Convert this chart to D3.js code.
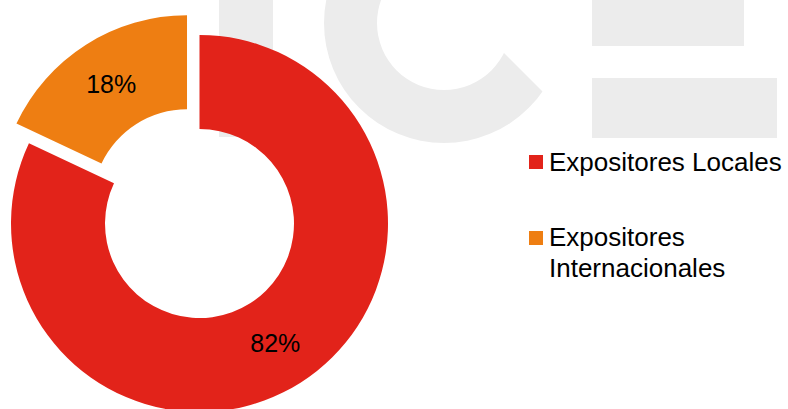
<!DOCTYPE html>
<html>
<head>
<meta charset="utf-8">
<script src="https://cdn.jsdelivr.net/npm/d3@7"></script>
<style>
  body { margin: 0; background: #fff; }
  svg { display: block; font-family: "Liberation Sans", Arial, sans-serif; }
</style>
</head>
<body>
<div id="chart"></div>
<script>
// data
const categories = ["Expositores Locales", "Expositores Internacionales"];
const values = [82, 18];
const colors = ["#e2231a", "#ee7e12"];
const exploded = [false, true];

const width = 788, height = 409;

const svg = d3.select("#chart").append("svg")
    .attr("width", width)
    .attr("height", height);

// faint logo watermark behind the chart
const wm = svg.append("g").attr("fill", "#ececec");
wm.append("rect").attr("x", 219).attr("y", 0).attr("width", 54).attr("height", 137);
wm.append("rect").attr("x", 592).attr("y", 0).attr("width", 152).attr("height", 46);
wm.append("rect").attr("x", 592).attr("y", 78).attr("width", 185).attr("height", 60);
svg.append("clipPath").attr("id", "c-cut")
    .append("polygon").attr("points", "-100,-551 1100,649 -100,649");
wm.append("g")
    .attr("clip-path", "url(#c-cut)")
  .append("path")
    .attr("d", d3.arc().innerRadius(67).outerRadius(120).startAngle(0).endAngle(2 * Math.PI)())
    .attr("transform", "translate(444,23)");

// donut
const cx = 199.5, cy = 223.5;
const innerR = 94.5, outerR = 188.5;
const explode = 23.3;

const total = d3.sum(values);
const pie = d3.pie().sort(null).value(d => d)(values);
const arc = d3.arc().innerRadius(innerR).outerRadius(outerR);

const offset = (d, i) => {
    if (!exploded[i]) return [0, 0];
    const a = (d.startAngle + d.endAngle) / 2;
    return [Math.sin(a) * explode, -Math.cos(a) * explode];
};

const slices = svg.append("g")
    .attr("transform", `translate(${cx},${cy})`)
    .selectAll("g").data(pie).enter().append("g")
    .attr("transform", (d, i) => `translate(${offset(d, i)})`);

slices.append("path")
    .attr("d", arc)
    .attr("fill", (d, i) => colors[i]);

slices.append("text")
    .attr("transform", d => `translate(${arc.centroid(d)})`)
    .attr("text-anchor", "middle")
    .attr("dy", "0.36em")
    .attr("font-size", 25)
    .attr("fill", "#000")
    .text(d => Math.round(d.value / total * 100) + "%");

// legend
const legendX = 529, legendY = 171, itemGap = 75, lineH = 31, maxW = 236;
const legend = svg.append("g");

categories.forEach((name, i) => {
    const y = legendY + i * itemGap;
    legend.append("rect")
        .attr("x", legendX)
        .attr("y", y - 16 + (i ? 1 : 0))
        .attr("width", 14)
        .attr("height", 14)
        .attr("fill", colors[i]);

    const t = legend.append("text")
        .attr("x", legendX + 20)
        .attr("y", y)
        .attr("font-size", 26)
        .attr("fill", "#000");

    // simple word wrap
    const words = name.split(" ");
    let line = [], ln = 0;
    let tspan = t.append("tspan").attr("x", legendX + 20).attr("y", y);
    words.forEach(w => {
        line.push(w);
        tspan.text(line.join(" "));
        if (tspan.node().getComputedTextLength() > maxW && line.length > 1) {
            line.pop();
            tspan.text(line.join(" "));
            line = [w];
            ln++;
            tspan = t.append("tspan").attr("x", legendX + 20).attr("y", y + ln * lineH).text(w);
        }
    });
});
</script>
</body>
</html>
